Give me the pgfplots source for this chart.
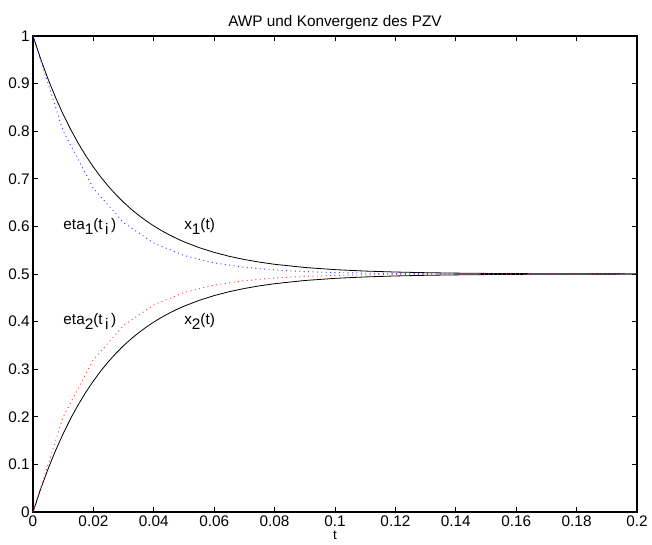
\documentclass[border=0pt]{standalone}
\usepackage{pgfplots}
\pgfplotsset{compat=1.18}
\usepackage{fontspec}
\setmainfont{Liberation Sans}

% Exact solution x(t) and Euler (Polygonzug) approximation eta, step h = 0.01
\newcommand{\lbl}{\fontsize{11.5pt}{13pt}\selectfont}
\newcommand{\sub}[1]{\raisebox{-0.7ex}{#1}}
\begin{document}
\begin{tikzpicture}
\lbl
\path[use as bounding box] (-24.75pt,-24.75pt) rectangle (464.25pt,384pt);
\begin{axis}[
  scale only axis,
  width=453pt, height=357pt,
  xmin=0, xmax=0.2, ymin=0, ymax=1,
  axis line style={line width=0.8pt},
  tick style={black, line width=0.5pt},
  tick align=inside,
  major tick length=4pt,
  xtick={0,0.02,0.04,0.06,0.08,0.1,0.12,0.14,0.16,0.18,0.2},
  xticklabels={0,0.02,0.04,0.06,0.08,0.1,0.12,0.14,0.16,0.18,0.2},
  ytick={0,0.1,0.2,0.3,0.4,0.5,0.6,0.7,0.8,0.9,1},
  yticklabels={0,0.1,0.2,0.3,0.4,0.5,0.6,0.7,0.8,0.9,1},
  tick label style={font=\lbl},
  xticklabel style={yshift=1.5pt},
  yticklabel style={xshift=1.5pt},
  title={AWP und Konvergenz des PZV},
  title style={font=\fontsize{11.5pt}{13pt}\selectfont, yshift=-5pt},
  xlabel={t},
  xlabel style={font=\fontsize{10pt}{11pt}\selectfont, yshift=4.5pt},
  clip=false,
]
% x_1(t), exact
\addplot[black, line width=0.6pt] coordinates {
(0,1) (0.0025,0.952419) (0.005,0.909366) (0.0075,0.870409) (0.01,0.835160)
(0.0125,0.803266) (0.015,0.774406) (0.0175,0.748293) (0.02,0.724664)
(0.0225,0.703285) (0.025,0.683940) (0.0275,0.666436) (0.03,0.650597)
(0.0325,0.636266) (0.035,0.623299) (0.0375,0.611565) (0.04,0.600948)
(0.0425,0.591342) (0.045,0.582650) (0.0475,0.574785) (0.05,0.567668)
(0.055,0.555402) (0.06,0.545359) (0.065,0.537137) (0.07,0.530405)
(0.075,0.524894) (0.08,0.520381) (0.09,0.513662)
(0.10,0.509158) (0.11,0.506139) (0.12,0.504115) (0.13,0.502758) (0.14,0.501849)
(0.15,0.501239) (0.16,0.500831) (0.17,0.500557) (0.18,0.500373) (0.19,0.500250)
(0.20,0.500168)};
% x_2(t), exact
\addplot[black, line width=0.6pt] coordinates {
(0,0) (0.0025,0.047581) (0.005,0.090634) (0.0075,0.129591) (0.01,0.164840)
(0.0125,0.196734) (0.015,0.225594) (0.0175,0.251707) (0.02,0.275336)
(0.0225,0.296715) (0.025,0.316060) (0.0275,0.333564) (0.03,0.349403)
(0.0325,0.363734) (0.035,0.376701) (0.0375,0.388435) (0.04,0.399052)
(0.0425,0.408658) (0.045,0.417350) (0.0475,0.425215) (0.05,0.432332)
(0.055,0.444598) (0.06,0.454641) (0.065,0.462863) (0.07,0.469595)
(0.075,0.475106) (0.08,0.479619) (0.09,0.486338)
(0.10,0.490842) (0.11,0.493861) (0.12,0.495885) (0.13,0.497242) (0.14,0.498151)
(0.15,0.498761) (0.16,0.499169) (0.17,0.499443) (0.18,0.499627) (0.19,0.499750)
(0.20,0.499832)};
% eta_1(t_i), Euler
\addplot[blue!80, line width=0.7pt, dash pattern=on 0.7pt off 2.6pt] coordinates {
(0,1) (0.01,0.8) (0.02,0.68) (0.03,0.608) (0.04,0.5648)
(0.05,0.53888) (0.06,0.523328) (0.07,0.513997) (0.08,0.508398) (0.09,0.505039)
(0.10,0.503023) (0.11,0.501814) (0.12,0.501088) (0.13,0.500653) (0.14,0.500392)
(0.15,0.500235) (0.16,0.500141) (0.17,0.500085) (0.18,0.500051) (0.19,0.500031)
(0.20,0.500018)};
% eta_2(t_i), Euler
\addplot[red!80, line width=0.7pt, dash pattern=on 0.7pt off 2.6pt] coordinates {
(0,0) (0.01,0.2) (0.02,0.32) (0.03,0.392) (0.04,0.4352)
(0.05,0.46112) (0.06,0.476672) (0.07,0.486003) (0.08,0.491602) (0.09,0.494961)
(0.10,0.496977) (0.11,0.498186) (0.12,0.498912) (0.13,0.499347) (0.14,0.499608)
(0.15,0.499765) (0.16,0.499859) (0.17,0.499915) (0.18,0.499949) (0.19,0.499969)
(0.20,0.499982)};
\node[anchor=west, inner sep=0pt] at (axis cs:0.01,0.6) {\lbl eta\sub{1}(t\,\sub{i}\,)};
\node[anchor=west, inner sep=0pt] at (axis cs:0.05,0.6) {\lbl x\sub{1}(t)};
\node[anchor=west, inner sep=0pt] at (axis cs:0.01,0.4) {\lbl eta\sub{2}(t\,\sub{i}\,)};
\node[anchor=west, inner sep=0pt] at (axis cs:0.05,0.4) {\lbl x\sub{2}(t)};
\end{axis}
\end{tikzpicture}
\end{document}
